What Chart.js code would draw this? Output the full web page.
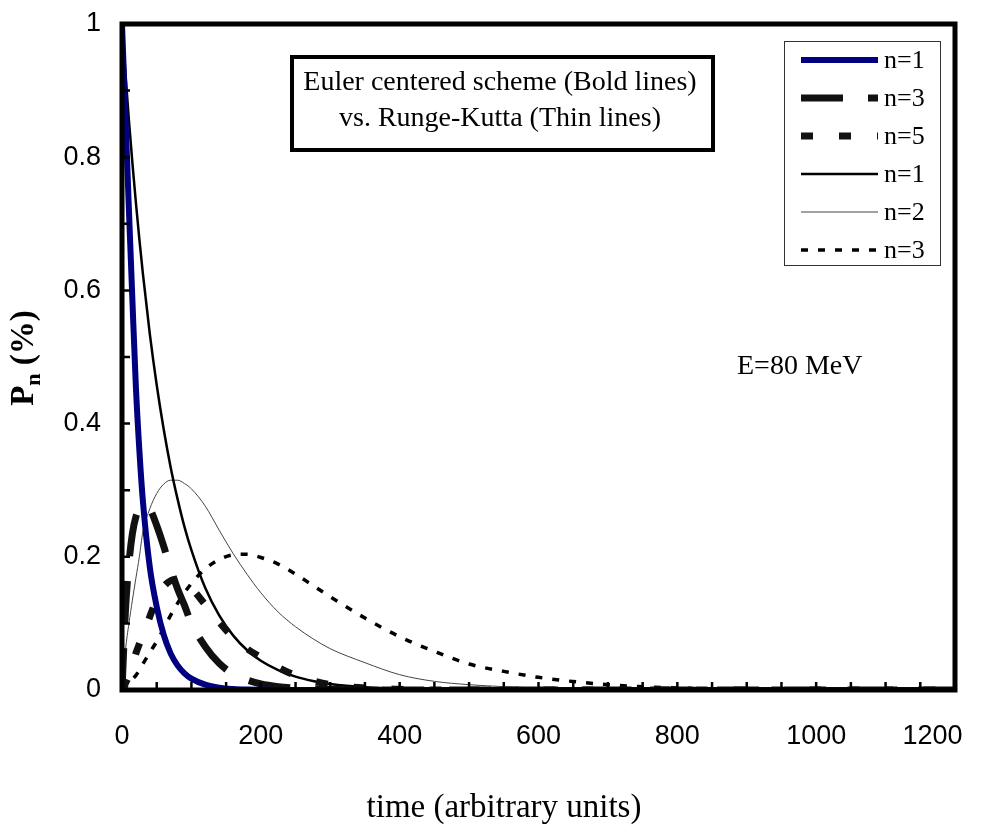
<!DOCTYPE html>
<html>
<head>
<meta charset="utf-8">
<script src="https://cdn.jsdelivr.net/npm/chart.js@4.4.1/dist/chart.umd.min.js"></script>
<style>
  body { margin: 0; background: #fff; }
</style>
</head>
<body>
<canvas id="chart" width="992" height="828"></canvas>
<script>
// time grid (arbitrary units) and P_n values
const times = [0, 5, 10, 15, 20, 25, 30, 40, 50, 60, 70, 80, 90, 100, 120, 140, 160, 180, 200,
  225, 250, 275, 300, 350, 400, 450, 500, 550, 600, 700, 800, 900, 1000, 1100, 1200];

// Euler centered scheme (bold lines)
const eulerN1 = [1, .86, .72, .585, .455, .36, .285, .185, .125, .083, .055, .037, .025, .017, .008, .0035, .0015, .0006, .0003,
  0, 0, 0, 0, 0, 0, 0, 0, 0, 0, 0, 0, 0, 0, 0, 0];
const eulerN3 = [0, .12, .19, .235, .26, .272, .278, .272, .247, .216, .182, .152, .127, .1, .065, .04, .024, .015, .009,
  .005, .003, .002, .001, 0, 0, 0, 0, 0, 0, 0, 0, 0, 0, 0, 0];
const eulerN5 = [0, .01, .022, .037, .055, .069, .082, .11, .136, .155, .164, .166, .162, .153, .128, .102, .079, .062, .049,
  .034, .022, .014, .008, .003, .001, 0, 0, 0, 0, 0, 0, 0, 0, 0, 0];

// Runge-Kutta (thin lines)
const rkN1 = [1, .925, .855, .791, .732, .677, .626, .535, .458, .392, .335, .287, .245, .21, .153, .112, .082, .06, .044,
  .03, .02, .0135, .009, .004, .002, .001, .0005, 0, 0, 0, 0, 0, 0, 0, 0];
const rkN2 = [0, .06, .1, .135, .168, .2, .237, .272, .295, .309, .315, .315, .31, .302, .276, .24, .205, .174, .146,
  .117, .095, .077, .062, .041, .023, .013, .008, .005, .003, .001, .0003, 0, 0, 0, 0];
const rkN3 = [0, .004, .01, .016, .022, .03, .039, .056, .073, .092, .112, .13, .146, .16, .182, .196, .203, .204, .199,
  .189, .174, .157, .14, .108, .08, .058, .039, .028, .019, .008, .003, .001, 0, 0, 0];

const xTicks = [0, 200, 400, 600, 800, 1000, 1200];
const yTicks = [0, 0.2, 0.4, 0.6, 0.8, 1];

const serif = '"Liberation Serif", "Times New Roman", serif';
const sans = '"Liberation Sans", Arial, sans-serif';

const pts = vals => times.map((t, i) => ({ x: t, y: vals[i] }));

const datasets = [
  { label: 'n=1', data: pts(eulerN1), borderColor: '#000080', borderWidth: 6, borderDash: [] },
  { label: 'n=3', data: pts(eulerN3), borderColor: '#111', borderWidth: 7, borderDash: [42, 25] },
  { label: 'n=5', data: pts(eulerN5), borderColor: '#111', borderWidth: 7, borderDash: [12, 26] },
  { label: 'n=1', data: pts(rkN1), borderColor: '#000', borderWidth: 2.5, borderDash: [] },
  { label: 'n=2', data: pts(rkN2), borderColor: '#444', borderWidth: 1, borderDash: [] },
  { label: 'n=3', data: pts(rkN3), borderColor: '#000', borderWidth: 3.5, borderDash: [7, 10] },
].map(d => ({ ...d, pointRadius: 0, fill: false, cubicInterpolationMode: 'monotone' }));

const decor = {
  id: 'decor',
  afterDraw(chart) {
    const { ctx, chartArea: a, scales: { x, y } } = chart;
    ctx.save();
    ctx.strokeStyle = '#000';

    // inward minor ticks
    ctx.lineWidth = 2.5;
    ctx.beginPath();
    for (let t = 0; t <= 1200; t += 50) {
      const px = x.getPixelForValue(t);
      ctx.moveTo(px, a.bottom); ctx.lineTo(px, a.bottom - 8);
    }
    for (let k = 0; k <= 10; k++) {
      const py = y.getPixelForValue(k / 10);
      ctx.moveTo(a.left, py); ctx.lineTo(a.left + 8, py);
    }
    ctx.stroke();

    // plot frame
    ctx.lineWidth = 5;
    ctx.strokeRect(a.left, a.top, a.right - a.left, a.bottom - a.top);

    // note box
    ctx.lineWidth = 4;
    ctx.strokeRect(292, 57, 421, 93);
    ctx.fillStyle = '#000';
    ctx.font = '28px ' + serif;
    ctx.textAlign = 'center';
    ctx.textBaseline = 'middle';
    ctx.fillText('Euler centered scheme (Bold lines)', 500, 83);
    ctx.fillText('vs. Runge-Kutta (Thin lines)', 500, 119);

    ctx.textAlign = 'left';
    ctx.fillText('E=80 MeV', 737, 367);

    // legend
    ctx.lineWidth = 1;
    ctx.strokeStyle = '#333';
    ctx.strokeRect(784.5, 41.5, 156, 224);
    ctx.font = '26px ' + serif;
    chart.data.datasets.forEach((ds, i) => {
      const ly = 60 + i * 38;
      ctx.save();
      ctx.strokeStyle = ds.borderColor;
      ctx.lineWidth = ds.borderWidth;
      ctx.setLineDash(ds.borderDash);
      ctx.beginPath();
      ctx.moveTo(801, ly); ctx.lineTo(878, ly);
      ctx.stroke();
      ctx.restore();
      ctx.fillText(ds.label, 884, ly + 1);
    });

    // x axis title
    ctx.textAlign = 'center';
    ctx.font = '33px ' + serif;
    ctx.fillText('time (arbitrary units)', 504, 808);

    // y axis title, rotated, with subscript n
    ctx.translate(33, 358);
    ctx.rotate(-Math.PI / 2);
    ctx.textAlign = 'left';
    ctx.textBaseline = 'alphabetic';
    const big = 'bold 33px ' + serif, small = 'bold 22px ' + serif;
    ctx.font = big; const wP = ctx.measureText('P').width, wRest = ctx.measureText(' (%)').width;
    ctx.font = small; const wn = ctx.measureText('n').width;
    let sx = -(wP + wn + wRest) / 2;
    ctx.font = big; ctx.fillText('P', sx, 0);
    ctx.font = small; ctx.fillText('n', sx + wP, 7);
    ctx.font = big; ctx.fillText(' (%)', sx + wP + wn, 0);
    ctx.restore();
  }
};

new Chart(document.getElementById('chart'), {
  type: 'line',
  data: { datasets },
  options: {
    responsive: false,
    animation: false,
    layout: { padding: { top: 24, right: 37, left: 0, bottom: 0 } },
    plugins: { legend: { display: false }, tooltip: { enabled: false } },
    scales: {
      x: {
        type: 'linear', min: 0, max: 1200,
        grid: { display: false, drawTicks: false },
        border: { display: false },
        afterBuildTicks: s => { s.ticks = xTicks.map(v => ({ value: v })); },
        afterFit: s => { s.height = 138; s.paddingLeft = 0; s.paddingRight = 0; },
        ticks: { padding: 30, color: '#000', font: { family: sans, size: 27 }, maxRotation: 0,
          // last label sits pulled in from the frame edge, as in the original
          callback: v => v === 1200 ? '1200' + ' '.repeat(6) : String(v) }
      },
      y: {
        type: 'linear', min: 0, max: 1,
        grid: { display: false, drawTicks: false },
        border: { display: false },
        afterBuildTicks: s => { s.ticks = yTicks.map(v => ({ value: v })); },
        afterFit: s => { s.width = 122; s.paddingTop = 0; s.paddingBottom = 0; },
        ticks: { padding: 21, color: '#000', font: { family: sans, size: 27 },
          callback: v => String(v) }
      }
    }
  },
  plugins: [decor]
});
</script>
</body>
</html>
